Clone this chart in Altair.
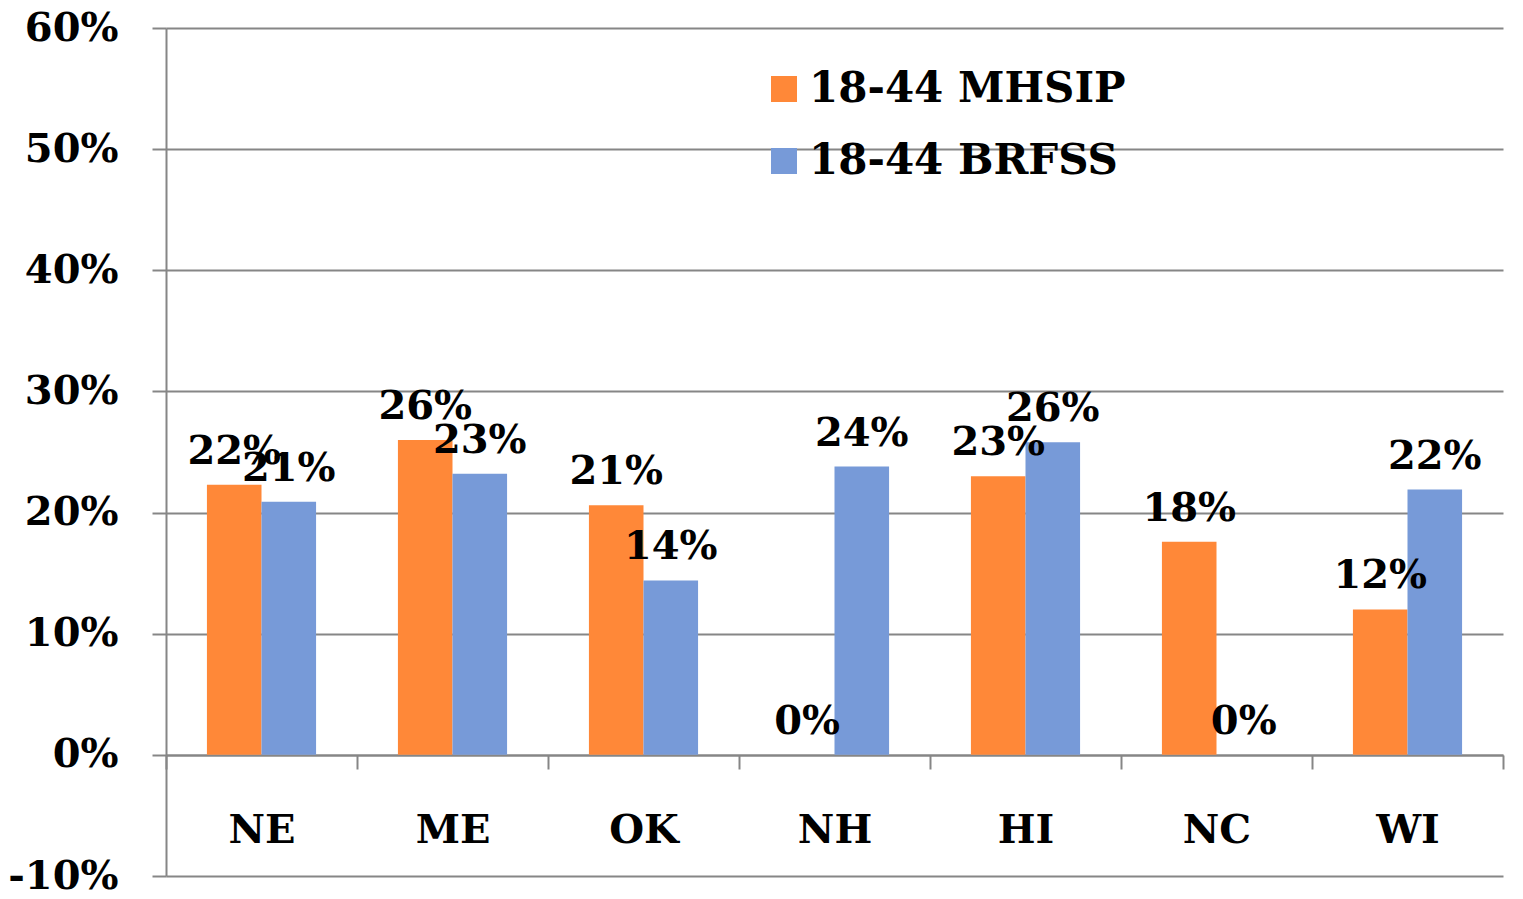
import altair as alt
import pandas as pd

states = ["NE", "ME", "OK", "NH", "HI", "NC", "WI"]
series_names = ["18-44 MHSIP", "18-44 BRFSS"]
mhsip = [22.3, 26.0, 20.6, 0.0, 23.0, 17.6, 12.0]
brfss = [20.9, 23.2, 14.4, 23.8, 25.8, 0.0, 21.9]
y_ticks = [-10, 0, 10, 20, 30, 40, 50, 60]
colors = ["#FF8838", "#779AD8"]

rows = []
for s, a, b in zip(states, mhsip, brfss):
    rows.append({"state": s, "series": series_names[0], "value": a})
    rows.append({"state": s, "series": series_names[1], "value": b})
df = pd.DataFrame(rows)

FONT = "DejaVu Serif"
GRAY = "#868686"
FS = 40

x = alt.X(
    "state:N", sort=states, title=None,
    scale=alt.Scale(paddingInner=0, paddingOuter=0),
    axis=alt.Axis(
        orient="bottom", offset=-121, labelAngle=0, tickBand="extent",
        tickSize=14, tickWidth=2, tickColor=GRAY, domainColor=GRAY, domainWidth=2,
        labelPadding=41, labelFontSize=FS, labelFont=FONT, labelFontWeight="bold",
        labelColor="black", grid=False,
    ),
)
xo = alt.XOffset("series:N", sort=series_names,
                 scale=alt.Scale(paddingInner=0, paddingOuter=0.75))
y = alt.Y(
    "value:Q", stack=None, title=None,
    scale=alt.Scale(domain=[-10, 60], nice=False, zero=False),
    axis=alt.Axis(
        values=y_ticks, labelExpr="datum.value + '%'",
        tickSize=14, tickWidth=2, tickColor=GRAY, domainColor=GRAY, domainWidth=2,
        grid=True, gridColor=GRAY, gridWidth=2,
        labelPadding=34, labelFontSize=FS, labelFont=FONT, labelFontWeight="bold",
        labelColor="black",
    ),
)
color = alt.Color(
    "series:N", sort=series_names,
    scale=alt.Scale(domain=series_names, range=colors),
    legend=alt.Legend(
        title=None, orient="none", legendX=597, legendY=40,
        symbolType="square", symbolSize=676, symbolStrokeWidth=0, symbolOpacity=1,
        labelFont=FONT, labelFontSize=42, labelFontWeight="bold", labelColor="black",
        labelOffset=4, rowPadding=30, labelLimit=600,
    ),
)

base = alt.Chart(df)
bars = base.mark_bar().encode(x=x, xOffset=xo, y=y, color=color)
labels = base.transform_calculate(
    label="format(datum.value, '.0f') + '%'"
).mark_text(
    font=FONT, fontSize=FS, fontWeight="bold", color="black",
    baseline="alphabetic", dy=-21,
).encode(x=x, xOffset=xo, y=y, text="label:N")

chart = (bars + labels).properties(
    width=1337, height=848,
    autosize=alt.AutoSizeParams(type="none"),
    padding={"left": 158, "top": 20, "right": 12, "bottom": 15},
).configure_view(stroke=None)

chart.save("out.html", embed_options={"renderer": "svg", "actions": False})
